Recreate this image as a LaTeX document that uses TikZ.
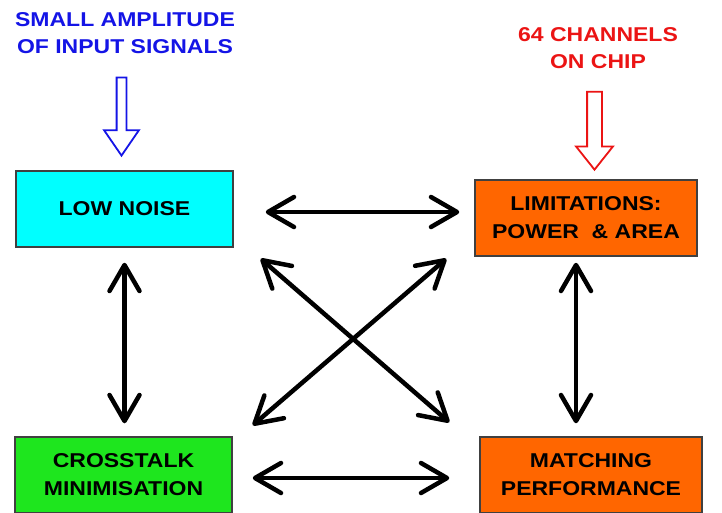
\documentclass[tikz,border=0pt]{standalone}
\usepackage{fontspec}
\setmainfont{Liberation Sans}[FakeStretch=1.15]
\usetikzlibrary{shapes.arrows, arrows.meta}
\definecolor{boxcyan}{RGB}{0,255,255}
\definecolor{boxorange}{RGB}{255,102,0}
\definecolor{boxgreen}{RGB}{30,230,30}
\definecolor{noteblue}{RGB}{20,20,230}
\definecolor{notered}{RGB}{235,20,20}

\begin{document}
\begin{tikzpicture}[x=1pt, y=-1pt,
    block/.style={rectangle, draw=black!75, line width=1.5pt, minimum height=76pt, align=center, font=\fontsize{20}{28}\selectfont\bfseries},
    note/.style={align=center, font=\fontsize{20}{27}\selectfont\bfseries},
    hollow/.style={single arrow, rotate=-90, fill=white, line width=1.8pt, inner xsep=0pt, minimum height=78pt},
    biarrow/.style={line width=4.5pt, {Straight Barb[length=26pt, width=30pt, round]}-{Straight Barb[length=26pt, width=30pt, round]}}
]
    \useasboundingbox (0,0) rectangle (722,512);

    \node[block, fill=boxcyan, minimum width=217pt] (lownoise) at (124.5,209) {LOW NOISE};
    \node[block, fill=boxorange, minimum width=222pt] (limits) at (586,218) {LIMITATIONS:\\POWER \ \& AREA};
    \node[block, fill=boxgreen, minimum width=217pt] (crosstalk) at (123.5,475) {CROSSTALK\\MINIMISATION};
    \node[block, fill=boxorange, minimum width=222pt] (matching) at (591,475) {MATCHING\\PERFORMANCE};

    \node[note, text=noteblue] (amplitude) at (125,33) {SMALL AMPLITUDE\\OF INPUT SIGNALS};
    \node[note, text=notered] (channels) at (598,48) {64 CHANNELS\\ON CHIP};

    \node[hollow, draw=noteblue, inner ysep=4pt, single arrow head extend=12.5pt, single arrow tip angle=69] (bluearrow) at (121.5,113) {};
    \node[hollow, draw=notered, inner ysep=6.5pt, single arrow head extend=11pt, single arrow tip angle=77] (redarrow) at (594.5,126) {};

    \draw[biarrow] ([shift={(32,3)}]lownoise.east) -- ([shift={(-15,-6)}]limits.west);
    \draw[biarrow] ([shift={(20,3)}]crosstalk.east) -- ([shift={(-30,3)}]matching.west);
    \draw[biarrow] ([shift={(0,15)}]lownoise.south) -- ([shift={(1,-13)}]crosstalk.north);
    \draw[biarrow] ([shift={(-10,6)}]limits.south) -- ([shift={(-15,-13)}]matching.north);
    \draw[biarrow] ([shift={(27,11)}]lownoise.south east) -- ([shift={(-30,-14)}]matching.north west);
    \draw[biarrow] ([shift={(-28,2)}]limits.south west) -- ([shift={(20,-11)}]crosstalk.north east);
\end{tikzpicture}
\end{document}
